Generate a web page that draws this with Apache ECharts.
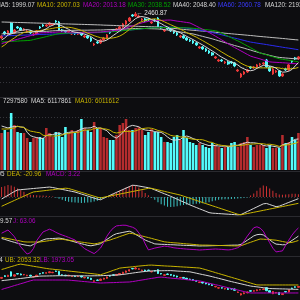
<!DOCTYPE html>
<html><head><meta charset="utf-8">
<script src="https://cdn.jsdelivr.net/npm/echarts@6/dist/echarts.min.js"></script>
<style>html,body{margin:0;padding:0;background:#0d0d10;}#c{width:300px;height:300px;}</style>
</head><body><div id="c"></div>
<script>
// ---- data ----
const categories = Array.from({length: 94}, (_, i) => String(i + 1));
// [open, close, lowest, highest]
const ohlc = [
[2188,2209,2178,2220],[2251,2230,2220,2262],[2230,2262,2220,2272],[2346,2241,2230,2356],[2241,2272,2230,2283],
[2304,2293,2283,2314],[2293,2272,2262,2304],[2272,2283,2262,2293],[2251,2262,2241,2272],[2262,2241,2230,2272],
[2220,2230,2209,2241],[2230,2262,2220,2272],[2304,2293,2283,2314],[2325,2314,2304,2335],[2314,2325,2304,2335],
[2325,2346,2314,2356],[2325,2335,2314,2346],[2367,2356,2346,2377],[2356,2272,2262,2367],[2272,2262,2251,2283],
[2262,2251,2241,2272],[2251,2262,2241,2272],[2230,2241,2220,2251],[2241,2230,2220,2251],[2230,2241,2220,2251],
[2241,2220,2209,2251],[2199,2209,2188,2220],[2209,2188,2178,2220],[2188,2157,2146,2199],[2115,2125,2104,2136],
[2146,2136,2125,2157],[2136,2167,2125,2178],[2167,2188,2157,2199],[2188,2220,2178,2230],[2251,2241,2230,2262],
[2272,2262,2251,2283],[2262,2283,2251,2293],[2283,2304,2272,2314],[2304,2335,2293,2346],[2335,2367,2325,2377],
[2367,2398,2356,2409],[2430,2419,2409,2440],[2419,2440,2409,2460.87],[2409,2419,2398,2430],[2377,2388,2367,2398],
[2388,2367,2356,2398],[2388,2377,2367,2398],[2346,2356,2335,2367],[2377,2367,2356,2388],[2398,2304,2293,2409],
[2304,2293,2283,2314],[2262,2272,2251,2283],[2293,2283,2272,2304],[2283,2262,2251,2293],[2262,2241,2230,2272],
[2241,2220,2209,2251],[2199,2209,2188,2220],[2209,2188,2178,2220],[2188,2167,2157,2199],[2167,2157,2146,2178],
[2157,2136,2125,2167],[2136,2115,2104,2146],[2083,2094,2073,2104],[2094,2073,2062,2104],[2073,2052,2041,2083],
[2052,2031,2020,2062],[2031,2010,1999,2041],[1978,1989,1968,1999],[1947,1957,1936,1968],[1957,1947,1936,1968],
[1926,1936,1915,1947],[1936,1915,1905,1947],[1936,1926,1915,1947],[1926,1894,1884,1936],[1842,1852,1831,1863],
[1779,1810,1768,1821],[1810,1831,1800,1842],[1831,1852,1821,1863],[1884,1873,1863,1894],[1873,1884,1863,1894],
[1884,1905,1873,1915],[1905,1915,1894,1926],[1915,1926,1905,1936],[1957,1884,1873,1968],[1884,1842,1831,1894],
[1810,1863,1800,1873],[1831,1842,1821,1852],[1842,1789,1779,1852],[1789,1810,1779,1821],[1863,1852,1842,1873],
[1852,1905,1842,1915],[1947,1936,1926,1957],[1978,1968,1957,1989],[1968,1989,1957,1999]
];
const ma5 = [2167,2188,2220,2230,2243,2259,2268,2272,2276,2270,2257,2255,2257,2268,2285,2308,2322,2335,2327,2314,
2295,2280,2257,2249,2245,2238,2228,2217,2203,2180,2163,2154,2154,2167,2190,2215,2238,2262,2285,2310,
2337,2364,2392,2409,2413,2406,2398,2381,2371,2354,2339,2318,2304,2283,2270,2255,2243,2224,2205,2188,
2171,2152,2133,2115,2094,2073,2052,2031,2007,1986,1968,1949,1936,1923,1905,1879,1863,1848,1844,1850,
1869,1886,1900,1902,1894,1886,1871,1844,1829,1831,1839,1858,1894,1930];
const ma10 = [2094,2115,2146,2167,2188,2213,2228,2246,2253,2256,2258,2262,2265,2272,2277,2283,2289,2296,2297,2299,
2301,2301,2296,2288,2279,2267,2254,2237,2226,2212,2201,2191,2186,2185,2185,2189,2196,2208,2226,2250,
2276,2301,2327,2347,2361,2372,2381,2386,2390,2383,2373,2358,2342,2327,2312,2297,2280,2264,2244,2229,
2213,2197,2179,2160,2141,2122,2102,2082,2061,2040,2020,2000,1983,1965,1945,1923,1906,1892,1884,1877,
1874,1874,1874,1873,1872,1877,1878,1872,1866,1863,1863,1865,1869,1879];
const ma20 = [2129,2139,2147,2157,2165,2174,2184,2193,2203,2212,2222,2231,2241,2243,2244,2246,2247,2249,2251,2251,
2251,2250,2249,2248,2248,2247,2247,2248,2248,2249,2250,2251,2255,2258,2262,2265,2268,2272,2283,2293,
2305,2315,2327,2337,2347,2355,2363,2368,2370,2372,2373,2374,2376,2376,2371,2365,2361,2356,2351,2346,
2330,2313,2296,2279,2263,2246,2227,2207,2187,2167,2147,2126,2107,2088,2070,2052,2034,2015,1998,1987,
1978,1968,1957,1948,1937,1934,1932,1930,1928,1926,1923,1920,1918,1916];
const ma30 = [2147,2148,2150,2152,2154,2155,2158,2159,2161,2163,2171,2179,2186,2194,2202,2211,2218,2227,2234,2236,
2238,2239,2242,2243,2245,2246,2246,2247,2247,2248,2248,2248,2250,2252,2253,2255,2257,2260,2265,2268,
2271,2274,2278,2281,2285,2288,2291,2294,2295,2296,2297,2298,2299,2300,2299,2298,2296,2295,2294,2293,
2290,2287,2284,2279,2276,2272,2268,2264,2254,2238,2222,2206,2190,2173,2158,2141,2122,2104,2086,2067,
2049,2031,2020,2011,2000,1991,1980,1970,1964,1959,1954,1949,1943,1938];
const ma40 = [2231,2233,2235,2237,2239,2242,2244,2246,2248,2249,2251,2253,2255,2257,2258,2260,2263,2265,2266,2267,
2267,2268,2268,2269,2269,2270,2270,2270,2271,2271,2272,2272,2273,2275,2276,2277,2278,2279,2281,2283,
2284,2286,2287,2288,2288,2287,2286,2285,2284,2283,2280,2276,2271,2266,2260,2255,2251,2246,2241,2235,
2230,2222,2213,2205,2196,2188,2179,2169,2159,2149,2139,2129,2120,2109,2100,2090,2081,2070,2061,2050,
2041,2031,2022,2014,2005,1997,1989,1984,1981,1978,1975,1972,1970,1968];
const ma60 = [2210,2211,2212,2213,2214,2216,2217,2218,2220,2221,2222,2223,2225,2226,2227,2228,2229,2230,2231,2232,
2234,2235,2236,2237,2238,2239,2241,2242,2243,2244,2245,2246,2249,2252,2254,2257,2260,2263,2266,2269,
2271,2274,2277,2280,2284,2287,2290,2293,2296,2299,2301,2301,2302,2302,2302,2300,2297,2295,2292,2288,
2283,2276,2271,2265,2259,2253,2245,2237,2229,2221,2212,2204,2195,2187,2179,2170,2162,2153,2145,2140,
2134,2129,2124,2119,2113,2108,2102,2097,2091,2086,2081,2076,2070,2065];
const ma120 = [2356,2355,2354,2353,2352,2351,2350,2349,2348,2347,2346,2345,2344,2343,2342,2341,2340,2339,2338,2337,
2336,2335,2334,2333,2332,2331,2330,2329,2328,2327,2326,2325,2323,2322,2321,2320,2318,2317,2316,2315,
2314,2313,2311,2310,2309,2308,2307,2306,2305,2304,2300,2297,2294,2291,2288,2285,2281,2278,2275,2272,
2269,2266,2263,2260,2257,2254,2251,2248,2245,2242,2238,2235,2232,2229,2226,2223,2220,2217,2214,2211,
2207,2204,2201,2198,2195,2192,2189,2186,2183,2180,2176,2173,2170,2167];
// volume in units of 10,000
const volume = [481,520,494,741,585,494,481,481,416,364,416,429,429,416,546,481,429,494,481,429,
559,481,520,481,520,663,546,520,494,624,546,546,429,416,390,390,455,585,611,663,
520,520,546,559,520,455,494,533,494,494,429,364,364,351,429,455,390,520,416,364,
351,325,351,325,299,286,351,325,299,286,299,299,351,364,299,351,364,429,325,299,
325,325,325,286,325,286,286,286,455,351,364,429,390,481];
const volMa5 = [572,559,546,559,564,567,559,556,491,447,432,421,411,411,447,460,460,473,486,463,
478,489,494,494,512,533,546,546,549,569,546,546,528,512,465,434,416,447,486,541,
567,580,572,562,533,520,515,512,499,494,489,463,429,400,387,393,398,429,442,429,
408,395,361,343,330,317,322,317,312,309,312,302,307,320,322,333,346,361,354,354,
348,341,320,312,317,309,302,294,328,333,348,377,398,403];
const volMa10 = [533,533,533,540,546,569,559,551,525,506,499,490,484,451,447,446,441,442,449,455,
469,475,484,490,488,506,517,520,521,541,540,546,537,530,517,490,481,488,499,503,
501,498,510,524,537,543,547,542,530,514,504,489,471,450,441,441,430,429,421,408,
400,397,395,393,380,363,359,339,328,320,315,312,312,316,316,322,324,334,337,338,
341,343,341,333,335,329,321,307,320,325,329,339,346,365];
const dif = [-7.2,-0.6,6,12.6,19.2,24.7,25.7,26.7,27.7,28.8,29.8,30.8,31.8,32.8,33.8,34.8,33.2,30.9,28.7,26.5,
24.2,22,19.7,17.5,13.9,10.3,6.9,3.3,-0.3,-3.9,-7.5,-9.7,-4.5,0.8,6,11.2,16.2,21.2,26.1,31.1,
36.1,41.1,40.4,38.4,36.4,34.5,32.5,29.4,24.9,20.4,15.9,11.5,7,2.4,-2.6,-7.6,-12.6,-17.5,-22.5,-27.7,
-32.2,-36.7,-41.2,-45.6,-50.1,-54.6,-56.5,-57.2,-58,-58.7,-59.5,-60.2,-61,-61.7,-62.5,-61.5,-56.1,-50.7,-45.5,-40.1,
-34.7,-29.4,-24,-22.6,-26.4,-30.1,-33.8,-32,-27.7,-23.3,-18.9,-14.5,-10.2,-5.8];
const dea = [-32.5,-27.4,-22.3,-17.2,-12.1,-7,-2.1,3,8.1,13.2,17.7,19,20.3,21.6,22.9,24.3,25.5,26.8,28.2,29.5,
30.8,29.8,26.4,23,19.6,16.2,12.9,9.5,6.1,2.7,-0.7,-3.2,-0.9,1.3,3.6,5.8,8,10.2,12.5,14.7,
16.9,19.2,21.4,23.7,25.9,28.1,30.4,30.3,27.7,25,22.4,19.8,17.2,14.6,12,9.4,6.7,3,-0.7,-4.4,
-8.2,-11.9,-15.6,-19.4,-23.1,-26.8,-30.6,-34.2,-37.9,-41.6,-45.4,-49.1,-52.8,-56.6,-60.3,-62.4,-60.1,-57.9,-55.7,-53.5,
-51.2,-49,-46.8,-44.5,-42.3,-40,-37.8,-35.6,-33.4,-31.2,-28.9,-26.7,-24.4,-22.2];
const macd = [35,38,42,40,36,30,24,18,10,8,7,6,5,5,4,3,2,-3,-6,-10,
-14,-17,-18,-19,-20,-21,-20,-19,-18,-16,-13,-9,-4,2,7,12,17,22,28,33,
38,42,40,33,24,14,6,-3,-10,-18,-25,-30,-34,-35,-34,-32,-30,-28,-27,-26,
-25,-24,-23,-22,-20,-18,-15,-12,-10,-9,-8,-8,-7,-6,-5,-4,-3,-2,5,12,
22,32,40,38,30,22,14,9,8,9,10,11,11,10];
const kLine = [68,64.4,60.4,56.4,52.8,48.8,45.6,42.8,40.4,38.4,44.4,50.4,56.4,62.4,66.4,67.2,68,68.8,69.6,67.6,
64.4,60.8,57.6,54,50.4,47.2,44,40.4,38.8,41.2,44,47.2,56,64.4,72.8,81.6,87.2,89.6,92.4,94.8,
97.2,92.4,84.4,76.8,69.2,61.6,56.4,51.6,46.4,45.6,44.8,44.4,43.6,43.2,42.8,42,41.6,40.8,40.4,40,
39.2,38.8,38,38.4,38.4,38.8,39.2,39.6,40,40,40.4,40.8,41.2,41.6,41.6,44.4,52.8,61.2,69.6,78.4,
83.2,84.8,82.4,72.4,62.8,52.8,45.6,44.4,42.8,43.2,52,60.4,68.8,77.6];
const dLine = [72.8,70,67.6,65.2,62.4,60,57.6,54.8,54,54,54,54,54,56,57.6,59.6,61.6,63.6,65.2,64.8,
62.8,61.2,59.2,57.6,55.6,53.6,52,50,48.4,46.4,48.4,52,55.2,58.8,62,66.8,70.8,75.6,80,84.4,
88.8,87.6,84.4,81.2,78,74.8,71.6,68.4,64.8,61.6,58,54.8,53.2,52,50.8,50,48.8,47.6,46.4,45.6,
44.4,43.2,42,41.6,41.6,41.2,40.8,40.4,40,40,39.6,39.2,38.8,38.4,38.4,39.2,43.6,48.4,52.8,57.2,
61.6,66,65.2,64.4,63.6,62.4,61.2,58.8,56,53.6,51.2,52.4,56,60];
const jLine = [89.2,95.6,102,89.2,75.2,54,34.8,20,6,11.2,28.4,59.2,77.6,94.4,99.6,105.2,100,92.8,86.8,82,
77.2,72.4,67.2,62,50.4,38.8,27.6,20.4,14,7.6,17.6,30,51.6,77.2,95.6,110,118.4,120,121.2,120.8,
116.8,113.2,106.8,90.4,74,46.4,22.4,26,29.6,32.4,34.8,37.6,36,33.6,30.8,29.2,28,26.8,25.6,24.8,
24,23.2,22,22.8,23.6,24.4,25.2,26,25.2,24.4,23.2,22.4,23.6,27.2,31.2,39.2,58.4,77.6,94.4,110.8,
114.8,109.6,97.2,73.6,51.2,29.2,14.4,16.4,18.4,40.8,61.6,81.6,97.6,110];
const bollUp = [2403,2425,2450,2474,2496,2521,2536,2521,2509,2496,2482,2469,2457,2442,2430,2418,2411,2401,2394,2384,
2376,2366,2357,2349,2340,2332,2322,2313,2305,2296,2286,2274,2301,2327,2354,2383,2408,2437,2447,2455,
2462,2469,2479,2487,2494,2501,2509,2511,2506,2501,2496,2491,2487,2484,2479,2474,2469,2464,2460,2455,
2450,2445,2440,2420,2398,2374,2352,2327,2305,2281,2259,2234,2212,2188,2166,2141,2119,2095,2072,2048,
2026,2024,2024,2024,2024,2024,2024,2024,2024,2024,2024,2024,2024,2024];
const bollMid = ma20;
const bollLow = [1913,1938,1960,1984,2009,2031,2055,2077,2102,2126,2146,2146,2146,2146,2146,2146,2146,2146,2146,2146,
2146,2144,2136,2129,2122,2114,2107,2100,2092,2085,2077,2072,2075,2077,2080,2082,2085,2090,2092,2095,
2097,2107,2119,2134,2146,2158,2173,2185,2197,2212,2217,2210,2200,2193,2185,2178,2171,2163,2153,2146,
2139,2131,2124,2107,2087,2068,2050,2031,2014,1994,1975,1957,1938,1918,1901,1881,1862,1842,1828,1828,
1828,1828,1828,1828,1828,1828,1828,1828,1828,1828,1828,1828,1828,1828];

// ---- chart ----
const UP = '#ee3a3a', DOWN = '#54fcfc', VRED = '#b52c2e';
const WHITE = '#d6d6d6', YEL = '#c8b400', PUR = '#b000c0', GRN = '#00a000', BLU = '#2a2af0', GRY = '#bdbdbd';
const FONT = '"Liberation Sans", Arial, sans-serif';
const chart = echarts.init(document.getElementById('c'), null, {renderer: 'canvas', devicePixelRatio: 1});

const gridDefs = [[0, 97], [105, 65], [176, 41], [220, 38], [262, 38]];
const yRanges = [[1568, 2587], [0, 845], [-70, 73.5], [-10, 142], [1656, 2587]];

function ln(data, color, idx) {
  return {type: 'line', data, xAxisIndex: idx, yAxisIndex: idx, showSymbol: false, symbol: 'none',
    lineStyle: {color, width: 1}, itemStyle: {color}, silent: true, z: 3, animation: false};
}
function txt(x, y, text, color) {
  return {type: 'text', x, y, z: 100, silent: true,
    style: {text, fill: color, fontSize: 6.3, fontFamily: FONT, verticalAlign: 'middle', align: 'left'}};
}
function hline(y, dashed) {
  return {type: 'line', z: -1, silent: true, shape: {x1: 0, y1: y, x2: 300, y2: y},
    style: {stroke: dashed ? '#36363c' : '#2a2a2f', lineWidth: 1, lineDash: dashed ? [1, 2] : null}};
}
const candleStyle = {color: UP, color0: DOWN, borderColor: UP, borderColor0: DOWN, borderWidth: 1};

const option = {
  backgroundColor: '#0d0d10',
  animation: false,
  grid: gridDefs.map(g => ({left: 0, right: 0, top: g[0], height: g[1], containLabel: false})),
  xAxis: gridDefs.map((g, i) => ({type: 'category', data: categories, gridIndex: i, show: false, boundaryGap: true})),
  yAxis: yRanges.map((r, i) => ({type: 'value', gridIndex: i, min: r[0], max: r[1], show: false, scale: true})),
  series: [
    {type: 'candlestick', data: ohlc, xAxisIndex: 0, yAxisIndex: 0, barWidth: '68%', itemStyle: candleStyle, z: 2,
      markPoint: {symbol: 'rect', symbolSize: 1, itemStyle: {color: 'rgba(0,0,0,0)'},
        data: [{type: 'max', valueDim: 'highest'}],
        label: {show: true, position: 'right', distance: 0, offset: [0, 1], color: '#e2e2e2', fontSize: 6.3, fontFamily: FONT,
          formatter: p => '\u2190 ' + p.value}}},
    ln(ma120, GRY, 0), ln(ma60, BLU, 0), ln(ma40, GRY, 0), ln(ma30, GRN, 0), ln(ma20, PUR, 0), ln(ma10, YEL, 0), ln(ma5, WHITE, 0),
    {type: 'bar', data: volume, xAxisIndex: 1, yAxisIndex: 1, barWidth: '80%', z: 2,
      itemStyle: {color: p => (ohlc[p.dataIndex][1] >= ohlc[p.dataIndex][0] ? VRED : DOWN)}},
    ln(volMa5, WHITE, 1), ln(volMa10, YEL, 1),
    {type: 'bar', data: macd, xAxisIndex: 2, yAxisIndex: 2, barWidth: 1, z: 2,
      itemStyle: {color: p => (p.value >= 0 ? '#d03232' : '#3cc4c4')}},
    ln(dif, WHITE, 2), ln(dea, YEL, 2),
    ln(kLine, WHITE, 3), ln(dLine, YEL, 3), ln(jLine, PUR, 3),
    {type: 'candlestick', data: ohlc, xAxisIndex: 4, yAxisIndex: 4, barWidth: '60%', itemStyle: candleStyle, z: 2},
    ln(bollUp, YEL, 4), ln(bollMid, WHITE, 4), ln(bollLow, PUR, 4)
  ],
  graphic: [
    hline(97.5, false), hline(171.5, false), hline(216.5, false), hline(256.5, false),
    hline(67.5, true), hline(82.5, true), hline(117.5, true), hline(197.5, true),
    txt(-4.5, 5, 'MA5: 1999.07', WHITE),
    txt(37, 5, 'MA10: 2007.03', YEL),
    txt(83, 5, 'MA20: 2013.18', PUR),
    txt(128, 5, 'MA30: 2038.52', GRN),
    txt(173, 5, 'MA40: 2048.40', WHITE),
    txt(218, 5, 'MA60: 2060.78', '#3a3aff'),
    txt(265, 5, 'MA120: 2193.26', WHITE),
    txt(3, 101.5, '7297580', WHITE),
    txt(31, 101.5, 'MA5: 6117861', WHITE),
    txt(75, 101.5, 'MA10: 6011612', YEL),
    txt(-27, 174.5, 'DIF: -19.05', WHITE),
    txt(7, 174.5, 'DEA: -20.96', YEL),
    txt(46, 174.5, 'MACD: 3.22', PUR),
    txt(-11.5, 221, 'D: 59.57', WHITE),
    txt(13, 221, 'J: 63.06', PUR),
    txt(-35, 260, 'MID: 2013.14', WHITE),
    txt(5, 260, 'UB: 2053.32', YEL),
    txt(40, 260, 'LB: 1973.05', PUR)
  ]
};
chart.setOption(option);
</script>
</body></html>
